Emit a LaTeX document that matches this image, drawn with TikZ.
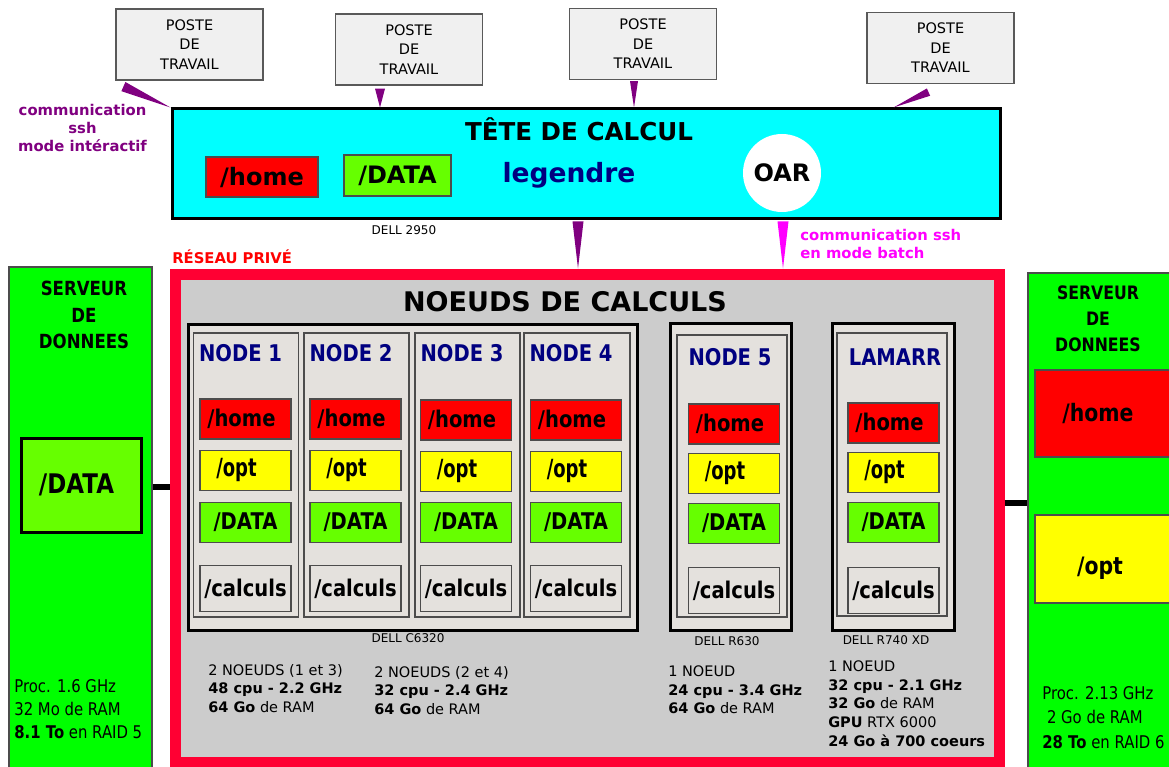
\documentclass[tikz,border=0pt]{standalone}
\usepackage{fontspec}
\setmainfont{DejaVu Sans}
\newfontfamily\condfont[FakeStretch=0.85]{DejaVu Sans}
\newfontfamily\narrowfont[FakeStretch=0.72]{DejaVu Sans}
\usepackage{tikz}
\usetikzlibrary{positioning,calc}

\definecolor{tetecyan}{HTML}{00FFFF}
\definecolor{homered}{HTML}{FF0000}
\definecolor{datagreen}{HTML}{66FF00}
\definecolor{optyellow}{HTML}{FFFF00}
\definecolor{srvgreen}{HTML}{00FF00}
\definecolor{reseaured}{HTML}{FF0033}
\definecolor{reseaugray}{HTML}{CCCCCC}
\definecolor{colfill}{HTML}{E4E1DD}
\definecolor{postefill}{HTML}{F0F0F0}
\definecolor{nodeblue}{HTML}{000080}
\definecolor{sshpurple}{HTML}{800080}
\definecolor{sshmagenta}{HTML}{FF00FF}

\newcommand{\fsz}[2]{\fontsize{#1}{#2}\selectfont}
% wedge shaped ssh link: colour, from, to, half width
\newcommand{\sshwedge}[4]{\fill[#1] ($(#2)!#4!90:(#3)$) -- ($(#2)!#4!-90:(#3)$) -- (#3) -- cycle;}

\begin{document}
\begin{tikzpicture}[
                    x=1pt,
                    y=-1pt,
                    inner sep=0pt,
                    semithick
                ]
                \tikzstyle{poste}=[
                    draw=black!65,
                    line width=1.2pt,
                    fill=postefill,
                    minimum width=147pt,
                    minimum height=71pt,
                    align=center,
                    font=\fsz{14.5}{19.5}
                ]
                \tikzstyle{fsbox}=[
                    draw=black!70,
                    line width=1.2pt,
                    minimum width=91pt,
                    minimum height=40pt,
                    font=\condfont\bfseries\fsz{23}{23}
                ]
                \tikzstyle{homebox}=[fsbox, fill=homered]
                \tikzstyle{optbox}=[fsbox, fill=optyellow, font=\narrowfont\bfseries\fsz{25}{25}]
                \tikzstyle{databox}=[fsbox, fill=datagreen]
                \tikzstyle{calcbox}=[fsbox, fill=colfill, minimum height=46pt]
                \tikzstyle{rack}=[draw=black, line width=3pt, fill=colfill]
                \tikzstyle{column}=[draw=black!70, line width=1.5pt, fill=colfill]
                \tikzstyle{nodelabel}=[text=nodeblue, font=\condfont\bfseries\fsz{23}{23}]
                \tikzstyle{dell}=[font=\fsz{12}{12}]
                \tikzstyle{info}=[align=left, font=\fsz{14.5}{18.7}]
                \tikzstyle{serveur}=[draw=black!70, line width=1.2pt, fill=srvgreen]
                \tikzstyle{bus}=[line width=6pt, black]

                \useasboundingbox (0,0) rectangle (1169,767);
                \clip (0,0) rectangle (1169,767);

                % postes de travail
                \node[poste] (poste1) at (189.5,44.5) {POSTE\\DE\\TRAVAIL};
                \node[poste] (poste2) at (409,49.5) {POSTE\\DE\\TRAVAIL};
                \node[poste] (poste3) at (643,44) {POSTE\\DE\\TRAVAIL};
                \node[poste] (poste4) at (940.5,48) {POSTE\\DE\\TRAVAIL};

                % tete de calcul
                \node[draw=black, line width=3pt, fill=tetecyan,
                      minimum width=828pt, minimum height=110pt] (tete) at (586,164) {};
                \node[font=\bfseries\fsz{24.6}{25}] (tetetitle) at (579,129) {TÊTE DE CALCUL};
                \node[draw=black!70, line width=1.2pt, fill=homered, minimum width=112pt,
                      minimum height=40pt, font=\bfseries\fsz{24}{24}] (tetehome) at (262,177) {/home};
                \node[draw=black!70, line width=1.2pt, fill=datagreen, minimum width=107pt,
                      minimum height=41pt, font=\bfseries\fsz{24}{24}] (tetedata) at (397.5,175.5) {/DATA};
                \node[text=nodeblue, font=\bfseries\fsz{26.5}{27}] (legendre) at (569,175) {legendre};
                \node[circle, fill=white, minimum size=78pt, font=\bfseries\fsz{24}{24}] (oar) at (782,173) {OAR};
                \node[dell] (dell2950) at (404,230) {DELL 2950};

                \node[text=sshpurple, align=center, font=\bfseries\fsz{14.8}{18}] (sshint) at (82.5,128)
                    {communication\\ssh\\mode intéractif};
                \node[text=sshmagenta, align=left, anchor=west, font=\bfseries\fsz{14.8}{18}] (sshbatch) at (800,244)
                    {communication ssh\\en mode batch};
                \node[text=red, anchor=west, font=\bfseries\fsz{14.8}{15}] (reseaulabel) at (172,257) {RÉSEAU PRIVÉ};

                % reseau prive
                \node[draw=reseaured, line width=11pt, fill=reseaugray,
                      minimum width=824pt, minimum height=488pt] (reseau) at (587,518) {};
                \node[font=\bfseries\fsz{27}{27}] (noeudstitle) at (565,302) {NOEUDS DE CALCULS};

                % DELL C6320
                \node[rack, minimum width=449pt, minimum height=306pt] (c6320) at (412.5,477) {};
                \node[column, minimum width=105pt, minimum height=284pt] (col1) at (246,475) {};
                \node[column, minimum width=105pt, minimum height=284pt] (col2) at (356.5,475) {};
                \node[column, minimum width=105pt, minimum height=284pt] (col3) at (467.5,475) {};
                \node[column, minimum width=106pt, minimum height=284pt] (col4) at (577,475) {};

                \node[nodelabel, anchor=west] (lab1) at ($(col1.north west)+(6,21)$) {NODE 1};
                \node[nodelabel, anchor=west] (lab2) at ($(col2.north west)+(6,21)$) {NODE 2};
                \node[nodelabel, anchor=west] (lab3) at ($(col3.north west)+(6,21)$) {NODE 3};
                \node[nodelabel, anchor=west] (lab4) at ($(col4.north west)+(6,21)$) {NODE 4};

                \node[homebox] (home1) at (245.5,419) {/home\hspace*{8pt}};
                \node[optbox, below=10pt of home1] (opt1) {/opt\hspace*{18pt}};
                \node[databox, below=11pt of opt1] (data1) {/DATA};
                \node[calcbox, below=22pt of data1] (calc1) {/calculs};

                \node[homebox] (home2) at (355.5,419) {/home\hspace*{8pt}};
                \node[optbox, below=10pt of home2] (opt2) {/opt\hspace*{18pt}};
                \node[databox, below=11pt of opt2] (data2) {/DATA};
                \node[calcbox, below=22pt of data2] (calc2) {/calculs};

                \node[homebox] (home3) at (466,420) {/home\hspace*{8pt}};
                \node[optbox, below=10pt of home3] (opt3) {/opt\hspace*{18pt}};
                \node[databox, below=10pt of opt3] (data3) {/DATA};
                \node[calcbox, below=22pt of data3] (calc3) {/calculs};

                \node[homebox] (home4) at (576,420) {/home\hspace*{8pt}};
                \node[optbox, below=10pt of home4] (opt4) {/opt\hspace*{18pt}};
                \node[databox, below=10pt of opt4] (data4) {/DATA};
                \node[calcbox, below=22pt of data4] (calc4) {/calculs};

                \node[dell] (dellc6320) at (408,638) {DELL C6320};

                % DELL R630
                \node[rack, minimum width=121pt, minimum height=307pt] (r630) at (730.5,476.5) {};
                \node[column, minimum width=110pt, minimum height=282pt] (col5) at (732,476) {};
                \node[nodelabel] (lab5) at (730,357) {NODE 5};
                \node[homebox] (home5) at (734,424) {/home\hspace*{8pt}};
                \node[optbox, below=8pt of home5] (opt5) {/opt\hspace*{18pt}};
                \node[databox, below=9pt of opt5] (data5) {/DATA};
                \node[calcbox, below=23pt of data5] (calc5) {/calculs};
                \node[dell] (dellr630) at (727,641) {DELL R630};

                % DELL R740 XD
                \node[rack, minimum width=122pt, minimum height=307pt] (r740) at (893,476.5) {};
                \node[column, minimum width=110pt, minimum height=283pt] (col6) at (892,474.5) {};
                \node[nodelabel] (lab6) at (895,357) {LAMARR};
                \node[homebox] (home6) at (893.5,423) {/home\hspace*{8pt}};
                \node[optbox, below=8pt of home6] (opt6) {/opt\hspace*{18pt}};
                \node[databox, below=9pt of opt6] (data6) {/DATA};
                \node[calcbox, below=24pt of data6] (calc6) {/calculs};
                \node[dell] (dellr740) at (886,640) {DELL R740 XD};

                % caracteristiques
                \node[info, anchor=west] (infoA) at (208,688.5)
                    {2 NOEUDS (1 et 3)\\\textbf{48 cpu - 2.2 GHz}\\\textbf{64 Go} de RAM};
                \node[info, anchor=west] (infoB) at (374,690.5)
                    {2 NOEUDS (2 et 4)\\\textbf{32 cpu - 2.4 GHz}\\\textbf{64 Go} de RAM};
                \node[info, anchor=west] (infoC) at (668,690)
                    {1 NOEUD\\\textbf{24 cpu - 3.4 GHz}\\\textbf{64 Go} de RAM};
                \node[info, anchor=west] (infoD) at (828,703.5)
                    {1 NOEUD\\\textbf{32 cpu - 2.1 GHz}\\\textbf{32 Go} de RAM\\\textbf{GPU} RTX 6000\\\textbf{24 Go à 700 coeurs}};

                % serveurs de donnees
                \node[serveur, minimum width=143pt, minimum height=540pt] (srvleft) at (80.5,537) {};
                \node[align=center, font=\condfont\bfseries\fsz{19.5}{26.5}] (srvlefttitle) at (84,315)
                    {SERVEUR\\DE\\DONNEES};
                \node[draw=black, line width=3pt, fill=datagreen, minimum width=120pt, minimum height=94pt,
                      font=\condfont\bfseries\fsz{27}{27}] (srvdata) at (81,485) {/DATA\hspace*{9pt}};
                \node[align=left, anchor=west, font=\condfont\fsz{17.5}{23}] (srvleftinfo) at (14,709)
                    {Proc. 1.6 GHz\\32 Mo de RAM\\\textbf{8.1 To} en RAID 5};

                \node[serveur, minimum width=152pt, minimum height=530pt] (srvright) at (1104,538) {};
                \node[align=center, font=\condfont\bfseries\fsz{18.5}{26}] (srvrighttitle) at (1098,319)
                    {SERVEUR\\DE\\DONNEES};
                \node[draw=black!70, line width=1.2pt, fill=homered, minimum width=150pt, minimum height=87pt,
                      font=\condfont\bfseries\fsz{24}{24}] (srvhome) at (1110,413.5) {/home\hspace*{24pt}};
                \node[draw=black!70, line width=1.2pt, fill=optyellow, minimum width=150pt, minimum height=88pt,
                      font=\condfont\bfseries\fsz{24}{24}] (srvopt) at (1110,559) {\raisebox{-15pt}[0pt][0pt]{/opt}\hspace*{20pt}};
                \node[align=left, anchor=west, font=\condfont\fsz{17.5}{24.5}] (srvrightinfo) at (1042,717.5)
                    {Proc. 2.13 GHz\\\ 2 Go de RAM\\\textbf{28 To} en RAID 6};

                % liaisons
                \draw[bus] (srvleft.east |- 0,487) -- (reseau.west |- 0,487);
                \draw[bus] (reseau.east |- 0,503) -- (srvright.west |- 0,503);

                \coordinate (w1a) at ($(poste1.south west)+(8,6)$);
                \coordinate (w2a) at ($(poste2.south)+(-29,3)$);
                \coordinate (w3a) at ($(poste3.south)+(-9,1)$);
                \coordinate (w4a) at ($(poste4.south)+(-12,8)$);
                \coordinate (w5a) at ($(tete.south)+(-8,1)$);
                \coordinate (w6a) at ($(tete.south)+(197,1)$);

                \sshwedge{sshpurple}{w1a}{tete.north west}{5pt}
                \sshwedge{sshpurple}{w2a}{w2a |- tete.north}{5pt}
                \sshwedge{sshpurple}{w3a}{w3a |- tete.north}{4pt}
                \sshwedge{sshpurple}{w4a}{$(tete.north east)+(-108,0)$}{4pt}
                \sshwedge{sshpurple}{w5a}{w5a |- reseau.north}{5.5pt}
                \sshwedge{sshmagenta}{w6a}{w6a |- reseau.north}{5.5pt}
            \end{tikzpicture}
\end{document}
